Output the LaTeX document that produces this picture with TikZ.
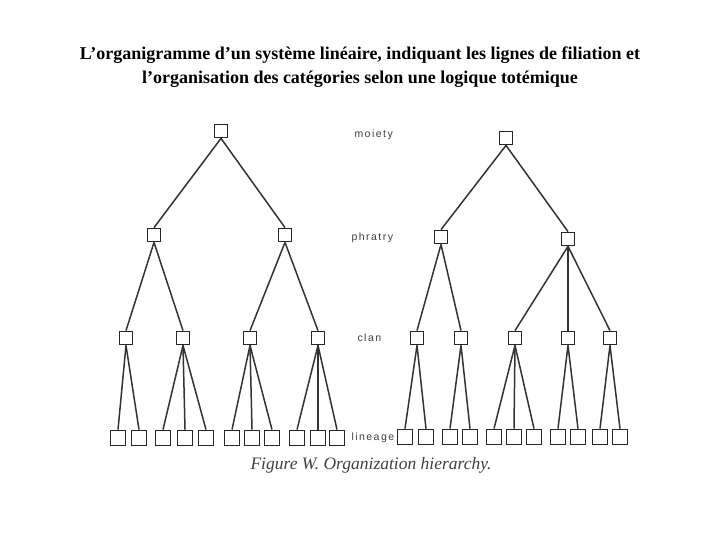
\documentclass[tikz,border=0pt]{standalone}
\usepackage{fontspec}
\setmainfont{Liberation Serif}
\newfontfamily\levelfont[LetterSpace=14]{Liberation Sans}
\usetikzlibrary{positioning}

\begin{document}
\begin{tikzpicture}[
        x=1pt, y=-1pt,
        unit_box/.style={
            draw=black!85,
            rectangle,
            minimum size=13pt,
            inner sep=0pt,
            line width=1.8pt
        },
        lin_box/.style={
            unit_box,
            minimum size=15pt
        },
        link_line/.style={
            line width=1.5pt,
            draw=black!80
        },
        level_label/.style={
            anchor=west,
            text=black!75,
            font=\levelfont\fontsize{10.5}{12}\selectfont
        }
    ]
        \useasboundingbox (0,0) rectangle (720,540);
        \node[align=center, font=\bfseries\fontsize{18}{24}\selectfont] (title) at (360,67)
            {L'organigramme d'un système linéaire, indiquant les lignes de filiation et\\
             l'organisation des catégories selon une logique totémique};

        % left tree
        \node[unit_box] (moiA) at (221,131) {};
        \node[unit_box] (phrA1) at (154,235) {};
        \node[unit_box] (phrA2) at (285,235) {};
        \node[unit_box] (clanA1) at (126,338) {};
        \node[unit_box] (clanA2) at (183,338) {};
        \node[unit_box] (clanA3) at (250,338) {};
        \node[unit_box] (clanA4) at (318,338) {};
        \node[lin_box] (linA1) at (118,438) {};
        \node[lin_box] (linA2) at (139,438) {};
        \node[lin_box] (linA3) at (163,438) {};
        \node[lin_box] (linA4) at (185,438) {};
        \node[lin_box] (linA5) at (206,438) {};
        \node[lin_box] (linA6) at (232,438) {};
        \node[lin_box] (linA7) at (252,438) {};
        \node[lin_box] (linA8) at (272,438) {};
        \node[lin_box] (linA9) at (297,438) {};
        \node[lin_box] (linA10) at (318,438) {};
        \node[lin_box] (linA11) at (337,438) {};

        % right tree
        \node[unit_box] (moiB) at (506,138) {};
        \node[unit_box] (phrB1) at (441,237) {};
        \node[unit_box] (phrB2) at (568,239) {};
        \node[unit_box] (clanB1) at (417,338) {};
        \node[unit_box] (clanB2) at (461,338) {};
        \node[unit_box] (clanB3) at (515,338) {};
        \node[unit_box] (clanB4) at (568,338) {};
        \node[unit_box] (clanB5) at (610,338) {};
        \node[lin_box] (linB1) at (405,437) {};
        \node[lin_box] (linB2) at (426,437) {};
        \node[lin_box] (linB3) at (450,437) {};
        \node[lin_box] (linB4) at (470,437) {};
        \node[lin_box] (linB5) at (494,437) {};
        \node[lin_box] (linB6) at (514,437) {};
        \node[lin_box] (linB7) at (534,437) {};
        \node[lin_box] (linB8) at (558,437) {};
        \node[lin_box] (linB9) at (578,437) {};
        \node[lin_box] (linB10) at (600,437) {};
        \node[lin_box] (linB11) at (620,437) {};

        % level names
        \node[level_label] (lblMoiety) at (351,135) {moiety};
        \node[level_label] (lblPhratry) at (348,238) {phratry};
        \node[level_label] (lblClan) at (354,338) {clan};
        \node[level_label] (lblLineage) at (348,438) {lineage};

        \node[font=\itshape\fontsize{17.5}{20}\selectfont, text=black!75] (caption) at (371,465)
            {Figure W. Organization hierarchy.};

        % filiation lines
        \foreach \p/\c in {moiA/phrA1, moiA/phrA2, phrA1/clanA1, phrA1/clanA2,
                phrA2/clanA3, phrA2/clanA4, clanA1/linA1, clanA1/linA2,
                clanA2/linA3, clanA2/linA4, clanA2/linA5, clanA3/linA6,
                clanA3/linA7, clanA3/linA8, clanA4/linA9, clanA4/linA10,
                clanA4/linA11}
            \draw[link_line] (\p.south) -- (\c.north);
        \foreach \p/\c in {moiB/phrB1, moiB/phrB2, phrB1/clanB1, phrB1/clanB2,
                phrB2/clanB3, phrB2/clanB4, phrB2/clanB5, clanB1/linB1,
                clanB1/linB2, clanB2/linB3, clanB2/linB4, clanB3/linB5,
                clanB3/linB6, clanB3/linB7, clanB4/linB8, clanB4/linB9,
                clanB5/linB10, clanB5/linB11}
            \draw[link_line] (\p.south) -- (\c.north);
    \end{tikzpicture}
\end{document}
